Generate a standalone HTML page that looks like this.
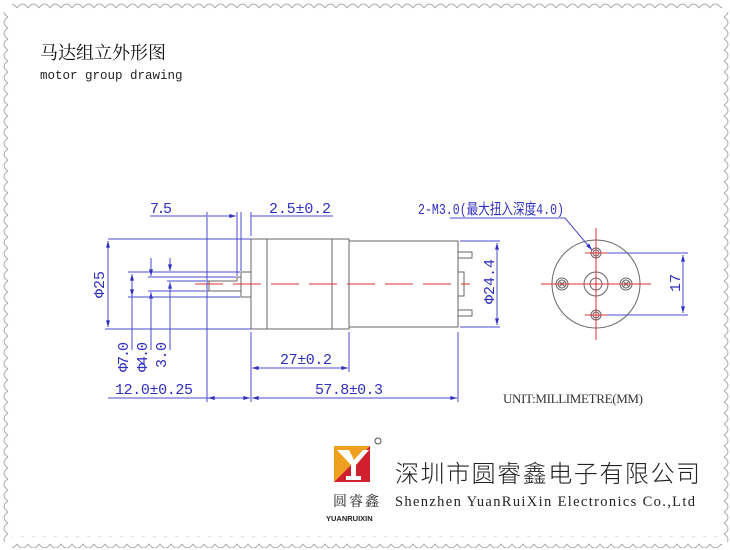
<!DOCTYPE html>
<html><head><meta charset="utf-8"><style>
html,body{margin:0;padding:0;background:#fff;width:730px;height:550px;overflow:hidden}
svg{display:block}
.b{stroke:#4a4ad0;stroke-width:1;fill:none}
.k{stroke:#666;stroke-width:1;fill:none}
.r{stroke:#e03030;stroke-width:1;fill:none}
.t{font-family:"Liberation Mono","Noto Sans CJK SC",monospace;fill:#3030c0;font-size:15px}
</style></head><body>
<svg width="730" height="550" viewBox="0 0 730 550" xmlns="http://www.w3.org/2000/svg">
<defs>
<pattern id="sh" x="6" y="0" width="11" height="12" patternUnits="userSpaceOnUse"><path d="M0 8 Q5.5 0 11 8" stroke="#aaa" fill="none"/></pattern>
<pattern id="sv" x="0" y="6" width="12" height="11" patternUnits="userSpaceOnUse"><path d="M8 0 Q0 5.5 8 11" stroke="#aaa" fill="none"/></pattern>
<pattern id="sr" x="0" y="6" width="12" height="11" patternUnits="userSpaceOnUse"><path d="M4 0 Q12 5.5 4 11" stroke="#aaa" fill="none"/></pattern>
<pattern id="sb" x="6" y="0" width="11" height="12" patternUnits="userSpaceOnUse"><path d="M0 4 Q5.5 12 11 4" stroke="#aaa" fill="none"/></pattern>
<marker id="a" viewBox="0 0 10 6" refX="10" refY="3" markerWidth="8" markerHeight="4" orient="auto-start-reverse"><path d="M0 0L10 3L0 6z" fill="#3030c0"/></marker>
</defs>
<rect x="12" y="0" width="710" height="12" fill="url(#sh)"/>
<rect x="0" y="12" width="12" height="530" fill="url(#sv)"/>
<rect x="718" y="12" width="12" height="530" fill="url(#sr)"/>
<rect x="12" y="536" width="710" height="12" fill="url(#sb)"/>

<text x="40" y="59" font-family="'Liberation Serif','Noto Serif CJK SC',serif" font-size="18" fill="#111">马达组立外形图</text>
<text x="40" y="79" font-family="'Liberation Mono',monospace" font-size="12.5" fill="#222">motor group drawing</text>

<rect class="k" x="251" y="239" width="98" height="90"/>
<line class="k" x1="267" y1="239" x2="267" y2="329"/>
<line class="k" x1="332" y1="239" x2="332" y2="329"/>
<rect class="k" x="349" y="241" width="109" height="86"/>
<rect class="k" x="241" y="272" width="10" height="25"/>
<path class="k" d="M241 277H237V281H207V291H241"/>
<line class="k" x1="209" y1="281" x2="209" y2="291"/>
<path class="k" d="M458 252H472V258H458M458 310H472V316H458M458 272H464V296H458"/>
<line class="r" x1="195" y1="284" x2="470" y2="284" stroke-dasharray="28,10"/>

<g class="b">
<line x1="108" y1="239" x2="251" y2="239"/><line x1="105" y1="329" x2="251" y2="329"/>
<line x1="108" y1="241" x2="108" y2="327" marker-start="url(#a)" marker-end="url(#a)"/>
<line x1="128" y1="272" x2="240" y2="272"/><line x1="128" y1="297" x2="240" y2="297"/>
<line x1="132" y1="274" x2="132" y2="296" marker-start="url(#a)" marker-end="url(#a)"/>
<line x1="132" y1="296" x2="132" y2="350"/>
<line x1="148" y1="277" x2="236" y2="277"/><line x1="148" y1="291" x2="206" y2="291"/>
<line x1="151" y1="258" x2="151" y2="276" marker-end="url(#a)"/>
<line x1="151" y1="310" x2="151" y2="292" marker-end="url(#a)"/>
<line x1="151" y1="292" x2="151" y2="350"/>
<line x1="167" y1="281" x2="206" y2="281"/>
<line x1="170" y1="258" x2="170" y2="271" marker-end="url(#a)"/>
<line x1="170" y1="310" x2="170" y2="282" marker-end="url(#a)"/>
<line x1="170" y1="282" x2="170" y2="350"/>
<line x1="207" y1="212" x2="207" y2="402"/>
<line x1="237" y1="212" x2="237" y2="276"/>
<line x1="241" y1="212" x2="241" y2="271"/>
<line x1="251" y1="212" x2="251" y2="236"/>
<line x1="251" y1="332" x2="251" y2="402"/>
<line x1="349" y1="332" x2="349" y2="372"/>
<line x1="458" y1="332" x2="458" y2="402"/>
<line x1="150" y1="216" x2="207" y2="216"/>
<line x1="208" y1="216" x2="236" y2="216" marker-end="url(#a)"/>
<line x1="251" y1="216" x2="333" y2="216"/>
<line x1="252" y1="368" x2="348" y2="368" marker-start="url(#a)" marker-end="url(#a)"/>
<line x1="108" y1="398" x2="250" y2="398"/>
<line x1="208" y1="398" x2="250" y2="398" marker-start="url(#a)" marker-end="url(#a)"/>
<line x1="252" y1="398" x2="457" y2="398" marker-start="url(#a)" marker-end="url(#a)"/>
<line x1="460" y1="241" x2="500" y2="241"/><line x1="460" y1="327" x2="500" y2="327"/>
<line x1="497" y1="243" x2="497" y2="325" marker-start="url(#a)" marker-end="url(#a)"/>
<line x1="605" y1="253" x2="688" y2="253"/><line x1="605" y1="315" x2="688" y2="315"/>
<line x1="683" y1="255" x2="683" y2="313" marker-start="url(#a)" marker-end="url(#a)"/>
<path d="M450 218H565L592 250" marker-end="url(#a)"/>
</g>
<text class="t" x="150" y="213" textLength="22">7.5</text>
<text class="t" x="269" y="213" textLength="62">2.5±0.2</text>
<text class="t" x="280" y="364" textLength="52">27±0.2</text>
<text class="t" x="115" y="394" textLength="78">12.0±0.25</text>
<text class="t" x="315" y="394" textLength="68">57.8±0.3</text>
<text class="t" font-size="12" x="418" y="214" textLength="146" lengthAdjust="spacingAndGlyphs">2-M3.0(最大扭入深度4.0)</text>
<text class="t" transform="translate(104,298) rotate(-90)">Φ25</text>
<text class="t" transform="translate(128,372) rotate(-90)" textLength="30">Φ7.0</text>
<text class="t" transform="translate(147,372) rotate(-90)" textLength="30">Φ4.0</text>
<text class="t" transform="translate(166,368) rotate(-90)" textLength="26">3.0</text>
<text class="t" transform="translate(494,304) rotate(-90)">Φ24.4</text>
<text class="t" transform="translate(680,292) rotate(-90)">17</text>

<circle class="k" cx="596" cy="284" r="44"/>
<circle class="k" cx="596" cy="284" r="12"/>
<circle class="k" cx="596" cy="284" r="6"/>
<circle class="k" cx="562" cy="284" r="6"/><circle class="k" cx="562" cy="284" r="4"/>
<path class="k" d="M559 281l6 6M565 281l-6 6"/>
<circle class="k" cx="626" cy="284" r="6"/><circle class="k" cx="626" cy="284" r="4"/>
<path class="k" d="M623 281l6 6M629 281l-6 6"/>
<circle class="k" cx="596" cy="253" r="5"/><circle class="k" cx="596" cy="253" r="3"/>
<circle class="k" cx="596" cy="315" r="5"/><circle class="k" cx="596" cy="315" r="3"/>
<g class="r">
<line x1="541" y1="284" x2="651" y2="284"/>
<line x1="596" y1="228" x2="596" y2="340"/>
<line x1="585" y1="253" x2="607" y2="253"/><line x1="585" y1="315" x2="607" y2="315"/>
</g>
<text x="503" y="403" font-family="'Liberation Serif',serif" font-size="13" fill="#333" textLength="140">UNIT:MILLIMETRE(MM)</text>

<polygon points="334,446 370,446 334,482" fill="#f0a020"/>
<polygon points="370,446 370,482 334,482" fill="#d0202e"/>
<path d="M337 450h12l5 10 9-10h6l-13 15v11h5v4h-15v-4h5v-11z" fill="#fff"/>
<circle cx="378" cy="441" r="3" fill="none" stroke="#555"/>
<text x="333" y="506" font-family="'Noto Serif CJK SC',serif" font-size="14" fill="#222" letter-spacing="2">圆睿鑫</text>
<text x="326" y="521" font-family="'Liberation Sans',sans-serif" font-size="7.5" font-weight="bold" fill="#222">YUANRUIXIN</text>
<text x="395" y="482" font-family="'Noto Sans CJK SC',sans-serif" font-size="24" font-weight="300" fill="#222" textLength="305">深圳市圆睿鑫电子有限公司</text>
<text x="395" y="506" font-family="'Liberation Serif',serif" font-size="14.5" fill="#222" textLength="300">Shenzhen YuanRuiXin Electronics Co.,Ltd</text>
</svg>
</body></html>
